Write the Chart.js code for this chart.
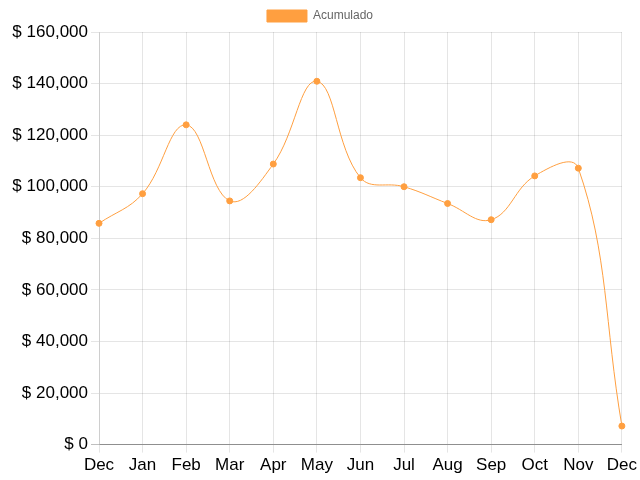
<!DOCTYPE html>
<html>
<head>
<meta charset="utf-8">
<script src="https://cdn.jsdelivr.net/npm/chart.js@4/dist/chart.umd.min.js"></script>
<style>
    html, body { margin: 0; padding: 0; background: #fff; }
    #wrap { width: 640px; height: 480px; }
</style>
</head>
<body>
<div id="wrap"><canvas id="myChart"></canvas></div>
<script>
'use strict';

let months = ['Dec', 'Jan', 'Feb', 'Mar', 'Apr', 'May', 'Jun', 'Jul', 'Aug', 'Sep', 'Oct', 'Nov', 'Dec'];
let acumulado = [85800, 97300, 124000, 94500, 108800, 140900, 103500, 100000, 93500, 87200, 104200, 107200, 7200];
let seriesName = 'Acumulado';
let yMin = 0;
let yMax = 160000;
let yStep = 20000;

let orange = 'rgb(255, 159, 64)';

Chart.defaults.font.family = "'Liberation Sans', Arial, sans-serif";

let ctx = document.getElementById('myChart').getContext('2d');
let myChart = new Chart(ctx, {
    type: 'line',
    data: {
        labels: months,
        datasets: [{
            label: seriesName,
            data: acumulado,
            borderColor: orange,
            backgroundColor: orange,
            pointBackgroundColor: orange,
            pointBorderColor: orange,
            pointRadius: 3,
            pointBorderWidth: 1,
            borderWidth: 1,
            tension: 0.4,
            fill: false
        }]
    },
    options: {
        responsive: true,
        maintainAspectRatio: false,
        animation: false,
        layout: {
            padding: { left: 0, right: 0, top: 0, bottom: 1 }
        },
        plugins: {
            legend: {
                labels: {
                    color: '#666',
                    font: { size: 12 },
                    boxWidth: 40,
                    boxHeight: 12
                }
            },
            tooltip: { enabled: false }
        },
        scales: {
            x: {
                grid: {
                    color: 'rgba(0, 0, 0, 0.1)',
                    tickLength: 8
                },
                border: { color: 'rgba(0, 0, 0, 0.25)' },
                ticks: {
                    color: '#000',
                    font: { size: 17 },
                    maxRotation: 0,
                    autoSkip: false
                }
            },
            y: {
                min: yMin,
                max: yMax,
                afterFit: function (scale) {
                    scale.width = 99;
                },
                grid: {
                    color: function (c) {
                        return c.tick && c.tick.value === 0 ? 'rgba(0, 0, 0, 0.25)' : 'rgba(0, 0, 0, 0.1)';
                    },
                    tickLength: 8
                },
                border: { color: 'rgba(0, 0, 0, 0.1)' },
                ticks: {
                    stepSize: yStep,
                    color: '#000',
                    font: { size: 17 },
                    callback: function (value) {
                        return '$ ' + value.toLocaleString('en-US');
                    }
                }
            }
        }
    }
});
</script>
</body>
</html>
